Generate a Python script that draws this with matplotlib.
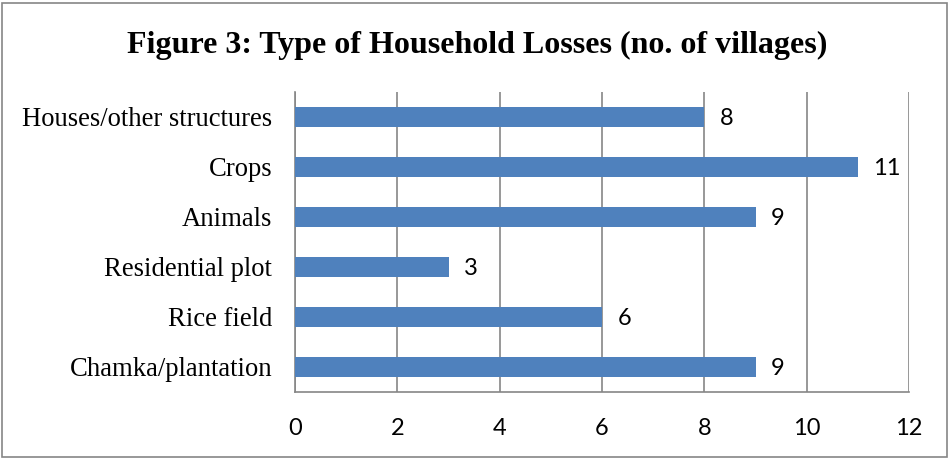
import matplotlib
matplotlib.use("Agg")
import matplotlib.pyplot as plt
from matplotlib.patches import Rectangle

categories = ["Houses/other structures", "Crops", "Animals", "Residential plot", "Rice field", "Chamka/plantation"]
values = [8, 11, 9, 3, 6, 9]
xticks = [0, 2, 4, 6, 8, 10, 12]
title = "Figure 3: Type of Household Losses (no. of villages)"

W, H = 949, 458
fig = plt.figure(figsize=(W / 100, H / 100), dpi=100)
fig.patch.set_facecolor("white")
fig.patches.append(Rectangle((1.5 / W, 1.5 / H), (W - 4) / W, (H - 4) / H, transform=fig.transFigure,
                             fill=False, edgecolor="#868686", linewidth=1.2))

ax = fig.add_axes([295 / W, (H - 392) / H, (909 - 295) / W, (392 - 92) / H])
n = len(categories)
ypos = list(range(n))[::-1]
ax.barh(ypos, values, height=0.4, color="#4F81BD", zorder=3)
ax.set_xlim(0, 12)
ax.set_ylim(-0.5, n - 0.5)
ax.set_xticks(xticks)
ax.set_xticklabels([str(t) for t in xticks], fontsize=17, family="Lato")
ax.tick_params(axis="x", length=0, pad=18.5)
ax.set_yticks(ypos)
ax.set_yticklabels(categories, fontsize=19.2, family="Liberation Serif")
ax.tick_params(axis="y", length=0, pad=16.5)
ax.grid(axis="x", color="#868686", linewidth=1.2, zorder=0)
for s in ["top", "right"]:
    ax.spines[s].set_visible(False)
for s in ["left", "bottom"]:
    ax.spines[s].set_color("#868686")
    ax.spines[s].set_linewidth(1.2)

for y, v in zip(ypos, values):
    ax.text(v + 0.3, y - 0.03, str(v), va="center", ha="left", fontsize=17, family="Lato")

fig.text(477 / W, 1 - 45 / H, title, ha="center", va="center", fontsize=23,
         fontweight="bold", family="Liberation Serif")

fig.savefig("out.png", dpi=100, facecolor="white")
